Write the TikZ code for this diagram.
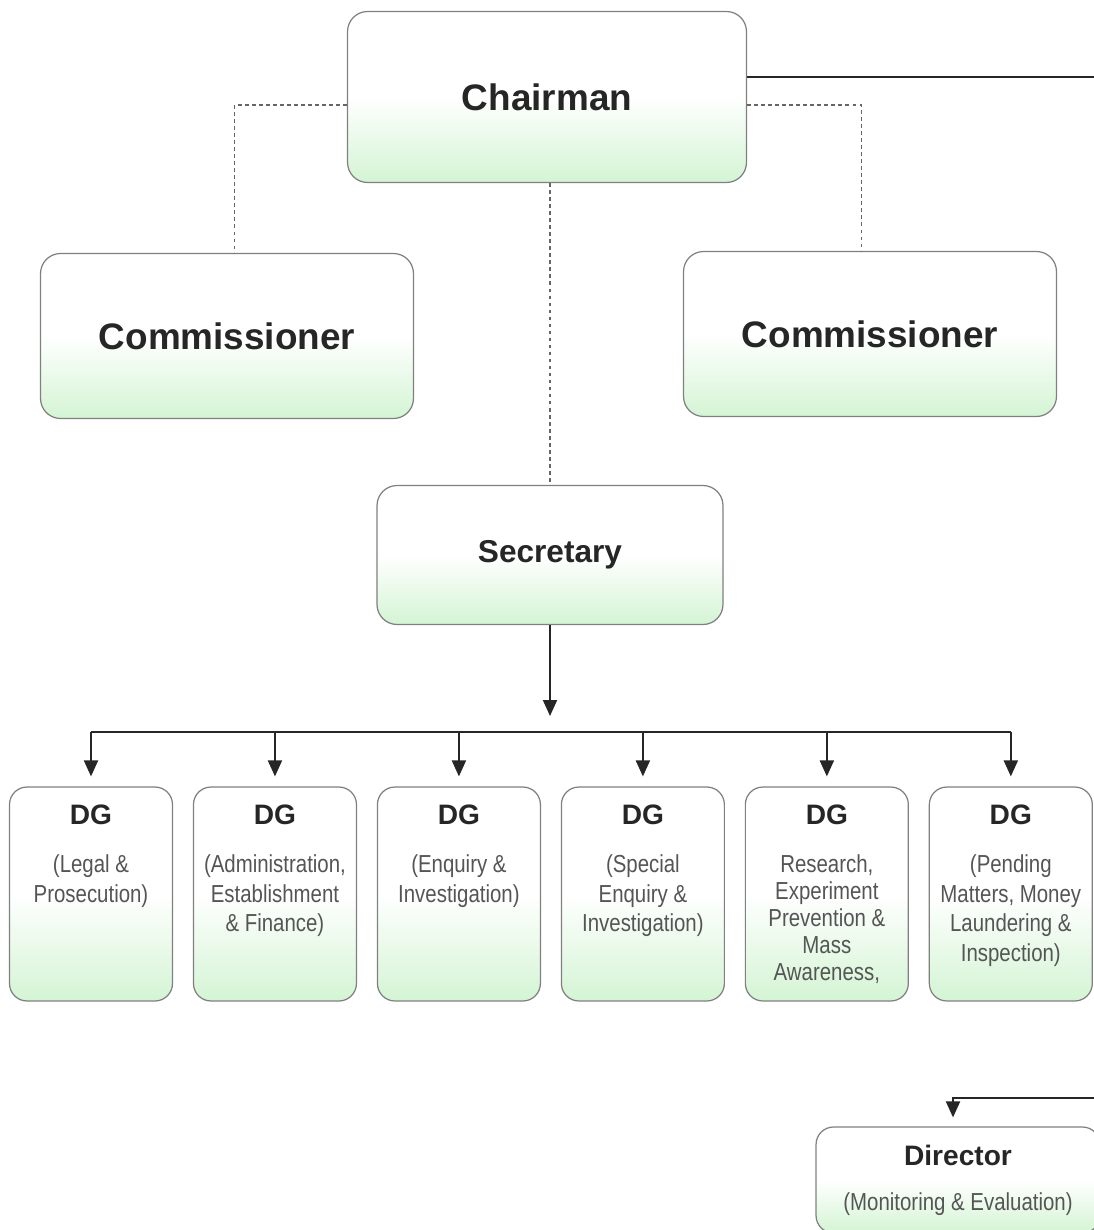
\documentclass[tikz,border=0pt]{standalone}
\usepackage{fontspec}
\setmainfont{Liberation Sans}
\newfontfamily\narrowfont[FakeStretch=0.83]{Liberation Sans}
\usetikzlibrary{positioning,arrows.meta}

\definecolor{mint}{RGB}{212,244,212}
\definecolor{boxline}{RGB}{128,128,128}
\definecolor{subgray}{RGB}{85,85,85}

\begin{document}
\begin{tikzpicture}[x=0.02cm, y=-0.02cm, node distance={36.8mm},
    >={Triangle[width=0.28cm,length=0.32cm]},
    orgbox/.style = {draw=boxline, line width=0.7pt, rounded corners=0.4cm, top color=white, bottom color=mint, middle color=white},
    main/.style = {orgbox, font=\bfseries\fontsize{21}{25}\selectfont, text=black!85},
    dgbox/.style = {orgbox, rounded corners=0.35cm, minimum width=3.26cm, minimum height=4.28cm},
    dgtitle/.style = {inner sep=0pt, font=\bfseries\fontsize{16}{19}\selectfont, text=black!85},
    dgsub/.style = {inner sep=0pt, align=center, font=\narrowfont\fontsize{14}{17}\selectfont, text=subgray},
    wire/.style = {line width=1.1pt, black!85},
    dotline/.style = {line width=0.7pt, black!60, dash pattern=on 2pt off 2pt}]
    \clip (0,0) rectangle (1094,1230);
    \fill[white] (0,0) rectangle (1094,1230);

    \node[main, minimum width=7.98cm, minimum height=3.42cm] (chair) at (547,97) {Chairman};
    \node[main, minimum width=7.46cm, minimum height=3.3cm] (com1) at (227,336) {Commissioner};
    \node[main, minimum width=7.46cm, minimum height=3.3cm] (com2) at (870,334) {Commissioner};
    \node[main, minimum width=6.92cm, minimum height=2.78cm, font=\bfseries\fontsize{18}{22}\selectfont] (sec) at (550,555) {Secretary};

    \node[dgbox] (dg1) at (91,894) {};
    \node[dgbox] (dg2) [right of=dg1] {};
    \node[dgbox] (dg3) [right of=dg2] {};
    \node[dgbox] (dg4) [right of=dg3] {};
    \node[dgbox] (dg5) [right of=dg4] {};
    \node[dgbox] (dg6) [right of=dg5] {};

    \node[dgtitle] (dg1t) [below=0.36cm of dg1.north] {DG};
    \node[dgtitle] (dg2t) [below=0.36cm of dg2.north] {DG};
    \node[dgtitle] (dg3t) [below=0.36cm of dg3.north] {DG};
    \node[dgtitle] (dg4t) [below=0.36cm of dg4.north] {DG};
    \node[dgtitle] (dg5t) [below=0.36cm of dg5.north] {DG};
    \node[dgtitle] (dg6t) [below=0.36cm of dg6.north] {DG};

    \node[dgsub] (dg1s) [below=0.58cm of dg1t] {(Legal \&\\Prosecution)};
    \node[dgsub] (dg2s) [below=0.58cm of dg2t] {(Administration,\\Establishment\\\& Finance)};
    \node[dgsub] (dg3s) [below=0.58cm of dg3t] {(Enquiry \&\\Investigation)};
    \node[dgsub] (dg4s) [below=0.58cm of dg4t] {(Special\\Enquiry \&\\Investigation)};
    \node[dgsub, font=\narrowfont\fontsize{14}{15.4}\selectfont] (dg5s) [below=0.58cm of dg5t] {Research,\\Experiment\\Prevention \&\\Mass\\Awareness,};
    \node[dgsub] (dg6s) [below=0.58cm of dg6t] {(Pending\\Matters, Money\\Laundering \&\\Inspection)};

    \node[orgbox, rounded corners=0.35cm, minimum width=5.68cm, minimum height=2.12cm] (dir) at (958,1180) {};
    \node[dgtitle] (dirt) [below=0.36cm of dir.north] {Director};
    \node[dgsub] (dirs) [below=0.54cm of dirt] {(Monitoring \& Evaluation)};

    \coordinate (edgeA) at (1100,77);
    \coordinate (split) at (550,716);
    \coordinate (bus) at (550,732);
    \coordinate (edgeB) at (1100,1098);

    \draw[wire] (chair.east |- edgeA) -- (edgeA);
    \draw[dotline] ([yshift=-0.16cm]chair.west) -| ([xshift=0.15cm]com1.north);
    \draw[dotline] ([yshift=-0.16cm]chair.east) -| ([xshift=-0.17cm]com2.north);
    \draw[dotline] (chair.south -| sec.north) -- (sec.north);
    \draw[wire, ->] (sec.south) -- (split);
    \draw[wire] (dg1 |- bus) -- (dg6 |- bus);
    \draw[wire, ->] (dg1 |- bus) -- ([yshift=0.2cm]dg1.north);
    \draw[wire, ->] (dg2 |- bus) -- ([yshift=0.2cm]dg2.north);
    \draw[wire, ->] (dg3 |- bus) -- ([yshift=0.2cm]dg3.north);
    \draw[wire, ->] (dg4 |- bus) -- ([yshift=0.2cm]dg4.north);
    \draw[wire, ->] (dg5 |- bus) -- ([yshift=0.2cm]dg5.north);
    \draw[wire, ->] (dg6 |- bus) -- ([yshift=0.2cm]dg6.north);
    \draw[wire, ->] (edgeB) -| ([xshift=-0.1cm, yshift=0.18cm]dir.north);
  \end{tikzpicture}
\end{document}
